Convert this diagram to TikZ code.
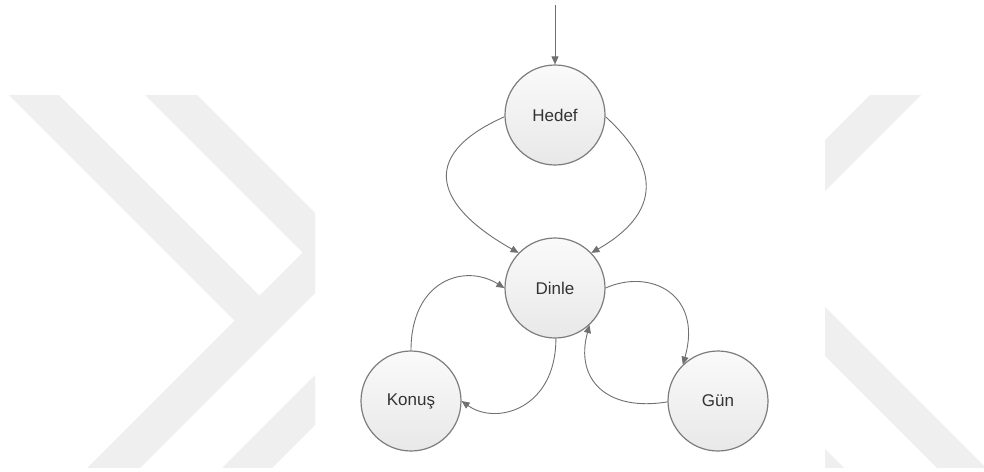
\documentclass[tikz,border=0pt]{standalone}
\usepackage{fontspec}
\setmainfont{Liberation Sans}
\usetikzlibrary{arrows.meta}

\definecolor{wmgray}{RGB}{239,239,239}
\definecolor{edgegray}{RGB}{112,112,112}
\definecolor{ringgray}{RGB}{125,125,125}
\definecolor{labelgray}{RGB}{51,51,51}

\tikzset{
  state/.style={circle, minimum size=100pt, inner sep=0pt,
    draw=ringgray, line width=1.2pt,
    top color=white!98!black, bottom color=black!9,
    text=labelgray, font=\fontsize{17}{20}\selectfont},
  edge/.style={draw=edgegray, line width=0.9pt,
    -{Triangle[length=8pt,width=7pt]}, fill=none},
  band/.style={fill=wmgray, draw=none}
}

\begin{document}
\begin{tikzpicture}[x=1pt, y=-1pt]
  \useasboundingbox (0,0) rectangle (984,471);
  \fill[white] (0,0) rectangle (984,471);

  % background logo, left part
  \begin{scope}
    \clip (0,95) rectangle (315,467);
    \path[band] (-86,0) -- (-36,0) -- (272,308) -- (247,333) -- cycle;
    \path[band] (-45,600) -- (8,600) -- (608,0) -- (555,0) -- cycle;
    \path[band] (50,0) -- (102,0) -- (400,298) -- (348,298) -- cycle;
    \path[band] (190,500) -- (240,500) -- (740,0) -- (690,0) -- cycle;
  \end{scope}

  % background logo, right part
  \begin{scope}
    \clip (825,95) rectangle (984,467);
    \path[band] (465,500) -- (516,500) -- (1016,0) -- (965,0) -- cycle;
    \path[band] (469,0) -- (518,0) -- (1118,600) -- (1069,600) -- cycle;
    \path[band] (326,0) -- (376,0) -- (976,600) -- (926,600) -- cycle;
  \end{scope}

  % states
  \node[state] (H) at (555,115) {Hedef};
  \node[state] (D) at (555,288) {Dinle};
  \node[state] (K) at (411,401) {Konuş};
  \node[state] (G) at (718,401) {Gün};

  \coordinate (entry) at (555,5);

  % transitions
  \draw[edge] (entry) -- (H);
  \draw[edge] (H.182) .. controls +(-90,40) and +(-80,-45) .. (D.136);
  \draw[edge] (H.358) .. controls +(55,50) and +(70,-40) .. (D.44);
  \draw[edge] (K.90) .. controls +(0,-70) and +(-40,-25) .. (D.180);
  \draw[edge] (D.271) .. controls +(0,70) and +(35,25) .. (K.0);
  \draw[edge] (D.0) .. controls +(45,-20) and +(20,-70) .. (G.134);
  \draw[edge] (G.181) .. controls +(-60,10) and +(-15,55) .. (D.313);
\end{tikzpicture}
\end{document}
